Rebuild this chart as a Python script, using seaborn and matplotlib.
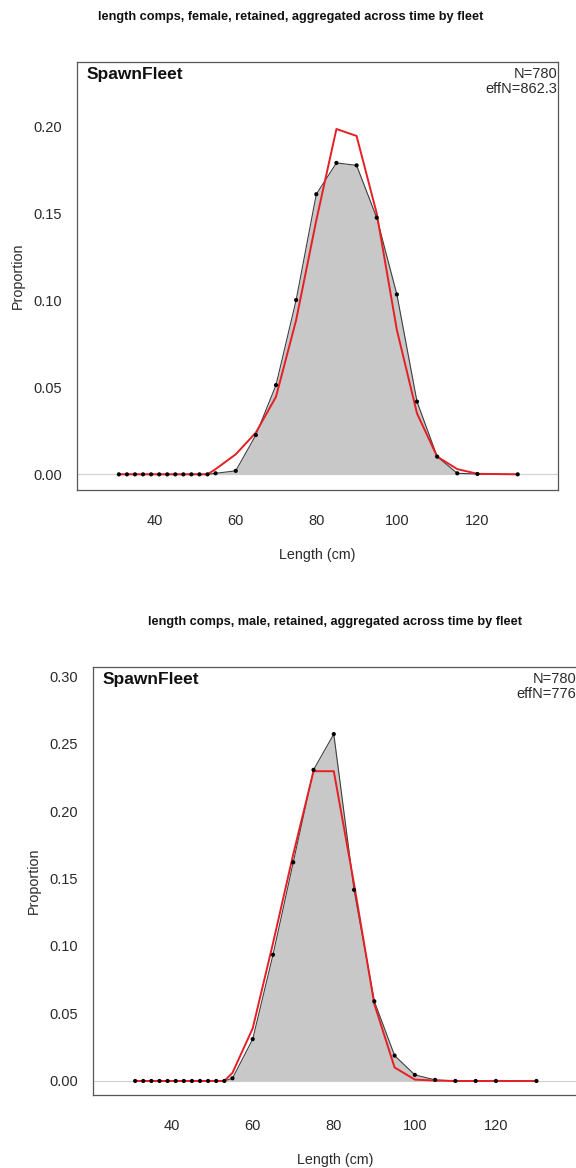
import matplotlib
matplotlib.use("Agg")
import matplotlib.pyplot as plt
import seaborn as sns
import numpy as np
import pandas as pd

# ---- data ----
length_bins = [31, 33, 35, 37, 39, 41, 43, 45, 47, 49, 51, 53, 55,
               60, 65, 70, 75, 80, 85, 90, 95, 100, 105, 110, 115, 120, 130]

female_obs = [0, 0, 0, 0, 0, 0, 0, 0, 0, 0, 0, 0, 0.0006,
              0.002, 0.0226, 0.0513, 0.1002, 0.161, 0.179, 0.1776, 0.1475,
              0.1034, 0.0418, 0.0102, 0.0006, 0.0002, 0]
female_exp = [0, 0, 0, 0, 0, 0, 0, 0, 0, 0, 0, 0, 0.003,
              0.0115, 0.024, 0.0446, 0.0887, 0.146, 0.1985, 0.1945, 0.150,
              0.083, 0.035, 0.0102, 0.003, 0.0003, 0]

male_obs = [0, 0, 0, 0, 0, 0, 0, 0, 0, 0, 0, 0, 0.002,
            0.031, 0.0935, 0.162, 0.2305, 0.257, 0.1416, 0.059, 0.0188,
            0.0045, 0.0008, 0, 0, 0, 0]
male_exp = [0, 0, 0, 0, 0, 0, 0, 0, 0, 0, 0, 0, 0.006,
            0.039, 0.102, 0.168, 0.2295, 0.2295, 0.146, 0.057, 0.010,
            0.001, 0.0003, 0, 0, 0, 0]

titles = ["length comps, female, retained, aggregated across time by fleet",
          "length comps, male, retained, aggregated across time by fleet"]
fleet_name = "SpawnFleet"
n_labels = [("N=780", "effN=862.3"), ("N=780", "effN=776")]
x_ticks = [40, 60, 80, 100, 120]
y_ticks_top = [0.00, 0.05, 0.10, 0.15, 0.20]
y_ticks_bot = [0.00, 0.05, 0.10, 0.15, 0.20, 0.25, 0.30]

sns.set_style("white")
plt.rcParams["font.family"] = ["Liberation Sans", "DejaVu Sans"]

W, H = 576, 1168
fig = plt.figure(figsize=(W / 100, H / 100), dpi=100)


def px_axes(left, top, right, bottom):
    return fig.add_axes([left / W, 1 - bottom / H, (right - left) / W, (bottom - top) / H])


def panel(ax, obs, exp, yticks, ylim, labels):
    df = pd.DataFrame({"Length": length_bins, "obs": obs, "exp": exp})
    ax.axhline(0, color="#d0d0d0", lw=0.8, zorder=0)
    ax.fill_between(df["Length"], 0, df["obs"], color="#c8c8c8", lw=0, zorder=1)
    sns.lineplot(data=df, x="Length", y="obs", ax=ax, color="#404040", lw=0.8,
                 zorder=2, sort=False)
    sns.lineplot(data=df, x="Length", y="exp", ax=ax, color="#e51f24", lw=1.4,
                 zorder=3, sort=False)
    sns.scatterplot(data=df, x="Length", y="obs", ax=ax, color="black", s=9,
                    edgecolor="none", zorder=4)
    ax.set_xlim(20.6, 140)
    ax.set_ylim(*ylim)
    ax.set_xticks(x_ticks)
    ax.set_yticks(yticks)
    ax.set_yticklabels([f"{v:.2f}" for v in yticks])
    ax.tick_params(axis="both", direction="out", length=5.5, width=0.8,
                   color="#555555", labelsize=10.5, labelcolor="#2a2a2a")
    ax.tick_params(axis="x", pad=11.5)
    ax.tick_params(axis="y", pad=5.5)
    for s in ax.spines.values():
        s.set_visible(True)
        s.set_color("#555555")
        s.set_linewidth(0.9)
    ax.set_xlabel("Length (cm)", fontsize=10.3, color="#2a2a2a", labelpad=14.5)
    ax.set_ylabel("Proportion", fontsize=10.3, color="#2a2a2a", labelpad=6)
    ax.text(0.02, 0.988, fleet_name, transform=ax.transAxes, ha="left", va="top",
            fontsize=12.5, fontweight="bold", color="#111111")
    ax.annotate(labels[0], xy=(1, 1), xycoords="axes fraction",
                xytext=(-0.5, -8.5), textcoords="offset points",
                ha="right", va="center", fontsize=10.5, color="#2a2a2a")
    ax.annotate(labels[1], xy=(1, 1), xycoords="axes fraction",
                xytext=(-0.5, -19.5), textcoords="offset points",
                ha="right", va="center", fontsize=10.5, color="#2a2a2a")


ax1 = px_axes(77, 62, 558, 490)
panel(ax1, female_obs, female_exp, y_ticks_top, (-0.009, 0.237), n_labels[0])
ax2 = px_axes(93, 667, 577, 1095)
panel(ax2, male_obs, male_exp, y_ticks_bot, (-0.0104, 0.3067), n_labels[1])

fig.text(291 / W, 1 - 17 / H, titles[0], ha="center", va="center",
         fontsize=9.2, fontweight="bold", color="#111111")
fig.text(335 / W, 1 - 622 / H, titles[1], ha="center", va="center",
         fontsize=9.2, fontweight="bold", color="#111111")

fig.savefig("out.png", dpi=100)
